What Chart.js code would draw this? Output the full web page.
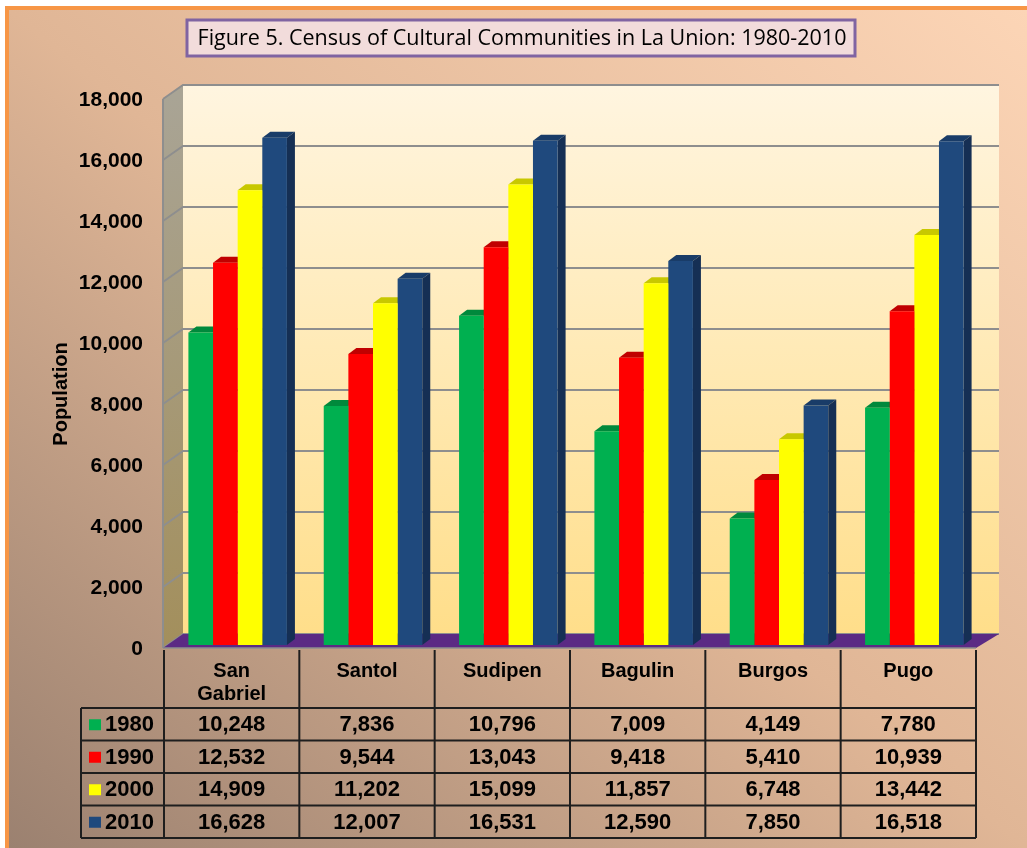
<!DOCTYPE html>
<html>
<head>
<meta charset="utf-8">
<script src="https://cdn.jsdelivr.net/npm/chart.js@4.4.1/dist/chart.umd.min.js"></script>
<style>
  html, body { margin: 0; padding: 0; background: #fff; }
  #frame {
    position: absolute; left: 5px; top: 6px; width: 1022px; height: 842px; box-sizing: border-box;
    border-top: 4px solid #F79646; border-left: 4px solid #F79646;
    background: linear-gradient(to top right, #9B8170 0%, #E0B696 50%, #FCD5B6 100%);
  }
  #wrap { position: absolute; left: 0; top: 0; width: 1027px; height: 848px; }
</style>
</head>
<body>
<div id="frame"></div>
<div id="wrap"><canvas id="censusChart" width="1027" height="848"></canvas></div>
<script>
const categories = [['San', 'Gabriel'], 'Santol', 'Sudipen', 'Bagulin', 'Burgos', 'Pugo'];
const years = ['1980', '1990', '2000', '2010'];
const pop1980 = [10248, 7836, 10796, 7009, 4149, 7780];
const pop1990 = [12532, 9544, 13043, 9418, 5410, 10939];
const pop2000 = [14909, 11202, 15099, 11857, 6748, 13442];
const pop2010 = [16628, 12007, 16531, 12590, 7850, 16518];
const yTicks = [0, 2000, 4000, 6000, 8000, 10000, 12000, 14000, 16000, 18000];

const series = [pop1980, pop1990, pop2000, pop2010];
const fronts = ['#00B050', '#FF0000', '#FFFF00', '#1F497D'];
const tops = ['#00893C', '#C00000', '#C8C800', '#193C68'];
const sides = ['#007A35', '#A00000', '#B0B000', '#152F54'];

const FONT = 'Liberation Sans, Arial, sans-serif';
const fmt = v => v.toLocaleString('en-US');

// 3d walls, floor and back-wall grid lines
const wallsPlugin = {
    id: 'walls',
    beforeDatasetsDraw(chart) {
        const { ctx, chartArea: a, scales: { y } } = chart;
        ctx.save();
        // back wall
        let g = ctx.createLinearGradient(0, a.top - 11, 0, a.bottom - 11);
        g.addColorStop(0, '#FFF5E0');
        g.addColorStop(1, '#FFDE8A');
        ctx.fillStyle = g;
        ctx.fillRect(a.left + 13, a.top - 11, a.right - a.left + 4, a.bottom - a.top);
        // side wall
        g = ctx.createLinearGradient(0, a.top, 0, a.bottom);
        g.addColorStop(0, '#A9A495');
        g.addColorStop(1, '#A38F5C');
        ctx.fillStyle = g;
        ctx.beginPath();
        ctx.moveTo(a.left - 7, a.top + 3);
        ctx.lineTo(a.left + 13, a.top - 11);
        ctx.lineTo(a.left + 13, a.bottom - 11);
        ctx.lineTo(a.left - 7, a.bottom + 3);
        ctx.closePath();
        ctx.fill();
        // grid lines
        ctx.strokeStyle = '#8E8E8E';
        ctx.lineWidth = 2;
        yTicks.forEach(v => {
            const yb = y.getPixelForValue(v) - 11;
            ctx.beginPath();
            ctx.moveTo(a.left - 7, yb + 14);
            ctx.lineTo(a.left + 13, yb);
            ctx.lineTo(a.right + 17, yb);
            ctx.stroke();
        });
        ctx.beginPath();
        ctx.moveTo(a.left - 7, a.top + 3);
        ctx.lineTo(a.left - 7, a.bottom + 3);
        ctx.stroke();
        // floor
        ctx.fillStyle = '#5B2A84';
        ctx.beginPath();
        ctx.moveTo(a.left - 7, a.bottom + 3);
        ctx.lineTo(a.right - 6, a.bottom + 3);
        ctx.lineTo(a.right + 17, a.bottom - 11);
        ctx.lineTo(a.left + 13, a.bottom - 11);
        ctx.closePath();
        ctx.fill();
        ctx.strokeStyle = '#8E8E8E';
        ctx.lineWidth = 1.5;
        ctx.beginPath();
        ctx.moveTo(a.left - 7, a.bottom + 3);
        ctx.lineTo(a.right - 6, a.bottom + 3);
        ctx.stroke();

        // bar tops and sides
        chart.data.datasets.forEach((ds, di) => {
            chart.getDatasetMeta(di).data.forEach(bar => {
                const l = bar.x - bar.width / 2, r = bar.x + bar.width / 2;
                ctx.fillStyle = tops[di];
                ctx.beginPath();
                ctx.moveTo(l, bar.y);
                ctx.lineTo(r, bar.y);
                ctx.lineTo(r + 8, bar.y - 6);
                ctx.lineTo(l + 8, bar.y - 6);
                ctx.closePath();
                ctx.fill();
                ctx.fillStyle = sides[di];
                ctx.beginPath();
                ctx.moveTo(r, bar.y);
                ctx.lineTo(r + 8, bar.y - 6);
                ctx.lineTo(r + 8, bar.base - 6);
                ctx.lineTo(r, bar.base);
                ctx.closePath();
                ctx.fill();
            });
        });
        ctx.restore();
    }
};

// data table under the plot, y title and the boxed title
const tablePlugin = {
    id: 'dataTable',
    afterDraw(chart) {
        const { ctx, scales: { x } } = chart;
        const step = x.width / categories.length;
        const left = x.left - 6;
        const right = left + step * categories.length;
        const headTop = x.top + 5;
        const rowsTop = 708, rowH = 32.5, legLeft = 81;
        const bottom = rowsTop + rowH * years.length;
        ctx.save();
        ctx.strokeStyle = '#1E1E1E';
        ctx.lineWidth = 2;
        ctx.beginPath();
        for (let i = 0; i <= categories.length; i++) {
            ctx.moveTo(left + i * step, headTop);
            ctx.lineTo(left + i * step, bottom);
        }
        ctx.moveTo(legLeft, rowsTop);
        ctx.lineTo(legLeft, bottom);
        for (let k = 0; k <= years.length; k++) {
            ctx.moveTo(legLeft, rowsTop + k * rowH);
            ctx.lineTo(right, rowsTop + k * rowH);
        }
        ctx.stroke();

        ctx.font = 'bold 22px ' + FONT;
        ctx.fillStyle = '#000';
        ctx.textBaseline = 'middle';
        series.forEach((vals, k) => {
            const cy = rowsTop + (k + 0.5) * rowH + 1;
            ctx.textAlign = 'center';
            vals.forEach((v, i) => {
                ctx.fillText(fmt(v), left + (i + 0.5) * step, cy);
            });
            ctx.fillStyle = fronts[k];
            ctx.fillRect(89, cy - 6, 12, 11);
            ctx.fillStyle = '#000';
            ctx.textAlign = 'left';
            ctx.fillText(years[k], 105, cy);
        });

        // y axis title
        ctx.save();
        ctx.translate(61, 394);
        ctx.rotate(-Math.PI / 2);
        ctx.textAlign = 'center';
        ctx.font = 'bold 20px ' + FONT;
        ctx.fillText('Population', 0, 0);
        ctx.restore();

        // title box
        ctx.fillStyle = '#F2DCDB';
        ctx.fillRect(187, 20, 668, 36);
        ctx.strokeStyle = '#8064A2';
        ctx.lineWidth = 3;
        ctx.strokeRect(187, 20, 668, 36);
        ctx.fillStyle = '#000';
        ctx.textAlign = 'center';
        ctx.font = '21.5px "Open Sans", sans-serif';
        ctx.fillText('Figure 5. Census of Cultural Communities in La Union: 1980-2010', 522, 39);
        ctx.restore();
    }
};

const ctx = document.getElementById('censusChart').getContext('2d');
new Chart(ctx, {
    type: 'bar',
    data: {
        labels: categories,
        datasets: series.map((vals, i) => ({
            label: years[i],
            data: vals,
            backgroundColor: fronts[i],
            borderWidth: 0,
            categoryPercentage: 0.728,
            barPercentage: 1.0
        }))
    },
    options: {
        responsive: false,
        animation: false,
        devicePixelRatio: 1,
        layout: { padding: { top: 96, right: 45, bottom: 0, left: 0 } },
        plugins: {
            legend: { display: false },
            title: { display: false },
            tooltip: { enabled: false }
        },
        scales: {
            x: {
                grid: { display: false, drawTicks: false },
                border: { display: false },
                ticks: {
                    color: '#000',
                    font: { family: FONT, size: 20, weight: 'bold', lineHeight: 1.15 },
                    padding: 15,
                    labelOffset: -6,
                    maxRotation: 0,
                    autoSkip: false
                },
                afterFit: s => { s.height = 203; }
            },
            y: {
                min: 0,
                max: 18000,
                grid: { display: false, drawTicks: false },
                border: { display: false },
                ticks: {
                    stepSize: 2000,
                    color: '#000',
                    font: { family: FONT, size: 21, weight: 'bold' },
                    padding: 27,
                    labelOffset: 4,
                    callback: v => fmt(v)
                },
                afterFit: s => { s.width = 170; }
            }
        }
    },
    plugins: [wallsPlugin, tablePlugin]
});
</script>
</body>
</html>
